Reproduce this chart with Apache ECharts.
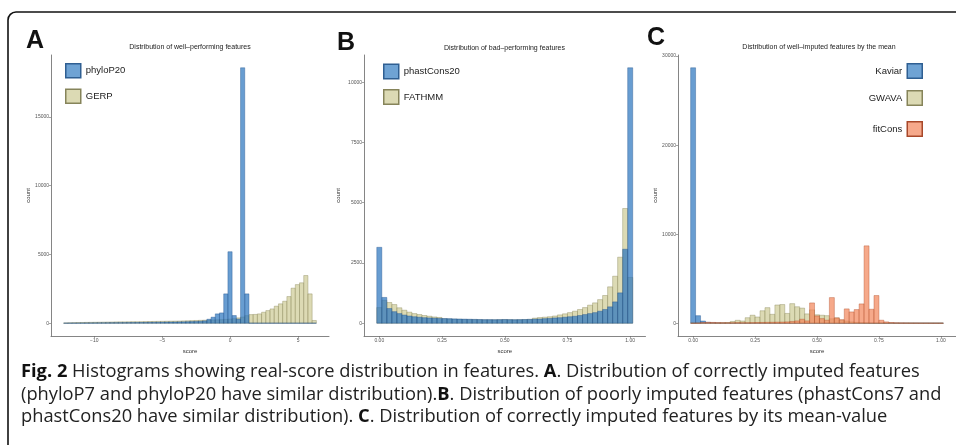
<!DOCTYPE html>
<html><head><meta charset="utf-8">
<script src="https://cdn.jsdelivr.net/npm/echarts@6/dist/echarts.min.js"></script>
<style>html,body{margin:0;padding:0;background:#fff}#c{width:956px;height:445px}</style>
</head><body><div id="c"></div>
<script>
// ---------- DATA ----------
// Panel A: 60 bins, width 0.31, first bin starts at -12.26
const binStartA = -12.26, binWidthA = 0.31;
const phyloP20 = [5,10,12,15,18,20,22,25,28,30,32,35,38,40,42,45,48,50,52,55,
  60,65,70,75,80,85,90,95,100,110,120,130,145,170,290,440,680,750,2135,5200,
  560,300,18580,2135,8,8,7,7,6,6,6,5,5,5,5,5,5,5,5,5];
const gerp = [20,30,40,50,55,60,65,70,75,80,85,90,95,100,100,105,110,110,115,120,
  125,130,135,140,145,150,155,160,170,180,190,200,210,220,230,240,250,260,280,300,
  330,390,450,550,630,640,680,800,920,1040,1240,1410,1600,1940,2550,2810,2940,3470,2135,200];
const ticksA = [-10,-5,0,5];
const yTicksA = [0,5000,10000,15000];

// Panel B: 51 bins, width 0.02, first bin starts at -0.01
const binStartB = -0.01, binWidthB = 0.02;
const phastCons20 = [3150,1070,610,480,400,340,300,270,250,230,220,210,200,195,190,180,175,170,165,160,
  155,150,150,148,150,155,150,148,150,155,160,170,175,190,200,220,230,250,270,290,
  320,360,400,440,500,570,680,885,1260,3070,10600];
const fathmm = [650,950,860,775,640,540,460,400,360,320,290,260,240,185,175,165,160,155,150,150,
  145,140,140,140,145,150,145,140,145,150,160,210,235,250,270,300,345,390,440,500,
  570,650,750,845,980,1150,1510,1950,2740,4760,1900];
const ticksB = [0,0.25,0.5,0.75,1];
const yTicksB = [0,2500,5000,7500,10000];

// Panel C: 51 bins, width 0.02, first bin starts at -0.01
const binStartC = -0.01, binWidthC = 0.02;
const kaviar = [28690,850,250,100,60,40,30,25,22,20,20,20,18,18,18,16,16,15,15,15,
  15,14,14,14,13,13,13,12,12,12,12,11,11,11,10,10,10,10,10,10,
  10,10,10,10,10,10,10,10,10,10,10];
const gwava = [0,0,0,0,5,20,40,80,200,330,250,620,900,700,1400,1750,1000,2050,2100,1100,
  2200,1850,1700,1050,1500,950,900,850,500,600,350,250,150,100,60,40,20,10,8,5,
  5,5,4,4,3,3,2,2,2,2,2];
const fitCons = [0,20,80,100,90,70,60,50,60,70,60,60,70,80,90,100,110,120,130,150,
  200,260,450,260,2280,820,520,340,2880,600,400,1610,1270,1535,2170,8690,1570,3110,340,150,
  80,50,40,35,30,30,25,25,20,20,15];
const ticksC = [0,0.25,0.5,0.75,1];
const yTicksC = [0,10000,20000,30000];

// ---------- CHART ----------
const BLUE = {fill:'rgba(40,116,190,0.7)', stroke:'rgba(30,80,140,0.85)', legend:'#6fa3d4', lborder:'#2f5f92'};
const OLIVE = {fill:'rgba(205,202,148,0.7)', stroke:'rgba(125,122,75,0.8)', legend:'#dcdab4', lborder:'#86845a'};
const ORANGE = {fill:'rgba(242,132,89,0.7)', stroke:'rgba(175,75,40,0.85)', legend:'#f6a98b', lborder:'#a8482a'};

function bins(start, width, counts){
  return counts.map((c,i)=>[start+i*width, start+(i+1)*width, c]);
}
function histSeries(name, data, col, idx){
  return {
    type:'custom', name:name, xAxisIndex:idx, yAxisIndex:idx,
    data:data, encode:{x:[0,1], y:2},
    itemStyle:{color:col.legend, borderColor:col.lborder, borderWidth:1.5},
    renderItem:function(params, api){
      const a = api.coord([api.value(0), api.value(2)]);
      const b = api.coord([api.value(1), 0]);
      return {type:'rect', shape:{x:a[0], y:a[1], width:b[0]-a[0], height:b[1]-a[1]},
        style:{fill:col.fill, stroke:col.stroke, lineWidth:0.45}};
    }
  };
}
const FONT = 'Liberation Sans, Arial, sans-serif';
function xAx(idx, min, max, ticks, fmt){
  return {type:'value', gridIndex:idx, min:min, max:max,
    name:'score', nameLocation:'middle', nameGap:10.5,
    nameTextStyle:{fontSize:6, color:'#333', fontFamily:FONT},
    splitLine:{show:false},
    axisLine:{show:true, onZero:false, lineStyle:{color:'#666', width:0.8}},
    axisTick:{show:true, length:2, customValues:ticks, lineStyle:{color:'#666', width:0.6}},
    axisLabel:{customValues:ticks, fontSize:5, color:'#555', margin:2, fontFamily:FONT, formatter:fmt}};
}
function yAx(idx, min, max, ticks, gap){
  return {type:'value', gridIndex:idx, min:min, max:max,
    name:'count', nameLocation:'middle', nameGap:gap, nameRotate:90,
    nameTextStyle:{fontSize:6, color:'#333', fontFamily:FONT},
    splitLine:{show:false},
    axisLine:{show:true, onZero:false, lineStyle:{color:'#666', width:0.8}},
    axisTick:{show:true, length:2, customValues:ticks, lineStyle:{color:'#666', width:0.6}},
    axisLabel:{customValues:ticks, fontSize:5, color:'#555', margin:2, fontFamily:FONT, formatter:v=>String(Math.round(v))}};
}
function legendItem(name, col){
  return {name:name, icon:'rect', itemStyle:{color:col.legend, borderColor:col.lborder, borderWidth:1.5}};
}
const legendText = {fontSize:9.5, color:'#222', fontFamily:FONT};
function panelText(x, y, text){
  return {type:'text', x:x, y:y, style:{text:text, fontSize:7, fontFamily:FONT, fill:'#222', align:'center', verticalAlign:'middle'}};
}
function letter(x, y, t){
  return {type:'text', x:x, y:y, style:{text:t, fontSize:25, fontWeight:900, fontFamily:FONT, fill:'#111', align:'left', verticalAlign:'middle'}};
}
const capFont = 'Open Sans, Noto Sans, sans-serif';
const capSize = 18.3;
const capRich = {b:{fontWeight:'bold', fontSize:capSize, fontFamily:capFont, fill:'#111'}};
function capLine(y, text){
  return {type:'text', x:21, y:y, style:{text:text, rich:capRich, fontSize:capSize, fontFamily:capFont, fill:'#222', align:'left', verticalAlign:'middle'}};
}
const frameStyle = {stroke:'#111', lineWidth:1.6, fill:null};

const chart = echarts.init(document.getElementById('c'), null, {renderer:'canvas'});
chart.setOption({
  animation:false,
  backgroundColor:'#fff',
  grid:[
    {left:51, top:55, width:278, height:281},
    {left:364, top:55, width:281.5, height:281},
    {left:678, top:55, width:285, height:281}
  ],
  xAxis:[
    xAx(0, -13.19, 7.27, ticksA, v=>String(v).replace('-','\u2212')),
    xAx(1, -0.061, 1.061, ticksB, v=>v.toFixed(2)),
    xAx(2, -0.061, 1.061, ticksC, v=>v.toFixed(2))
  ],
  yAxis:[
    yAx(0, -929, 19509, yTicksA, 18.5),
    yAx(1, -530, 11130, yTicksB, 22.5),
    yAx(2, -1434, 30124, yTicksC, 17)
  ],
  legend:[
    {left:65, top:63, orient:'vertical', padding:0, itemWidth:15, itemHeight:14, itemGap:10, selectedMode:false,
     textStyle:legendText, data:[legendItem('phyloP20', BLUE), legendItem('GERP', OLIVE)]},
    {left:383, top:63.5, orient:'vertical', padding:0, itemWidth:15, itemHeight:14.5, itemGap:9.5, selectedMode:false,
     textStyle:legendText, data:[legendItem('phastCons20', BLUE), legendItem('FATHMM', OLIVE)]},
    {right:33, top:63, align:'right', padding:0, itemWidth:15, itemHeight:14.5, selectedMode:false,
     textStyle:legendText, data:[legendItem('Kaviar', BLUE)]},
    {right:33, top:90, align:'right', padding:0, itemWidth:15, itemHeight:14.5, selectedMode:false,
     textStyle:legendText, data:[legendItem('GWAVA', OLIVE)]},
    {right:33, top:121, align:'right', padding:0, itemWidth:15, itemHeight:14.5, selectedMode:false,
     textStyle:legendText, data:[legendItem('fitCons', ORANGE)]}
  ],
  series:[
    histSeries('GERP', bins(binStartA, binWidthA, gerp), OLIVE, 0),
    histSeries('phyloP20', bins(binStartA, binWidthA, phyloP20), BLUE, 0),
    histSeries('FATHMM', bins(binStartB, binWidthB, fathmm), OLIVE, 1),
    histSeries('phastCons20', bins(binStartB, binWidthB, phastCons20), BLUE, 1),
    histSeries('Kaviar', bins(binStartC, binWidthC, kaviar), BLUE, 2),
    histSeries('GWAVA', bins(binStartC, binWidthC, gwava), OLIVE, 2),
    histSeries('fitCons', bins(binStartC, binWidthC, fitCons), ORANGE, 2)
  ],
  graphic:[
    {type:'line', shape:{x1:8, y1:446, x2:8, y2:20}, style:frameStyle},
    {type:'arc', shape:{cx:16, cy:20, r:8, startAngle:Math.PI, endAngle:Math.PI*1.5, clockwise:true}, style:frameStyle},
    {type:'line', shape:{x1:16, y1:12, x2:960, y2:12}, style:frameStyle},
    letter(26, 41, 'A'), letter(337, 43.5, 'B'), letter(647, 38.5, 'C'),
    panelText(190, 47.5, 'Distribution of well\u2013performing features'),
    panelText(504.5, 48.5, 'Distribution of bad\u2013performing features'),
    panelText(819, 47.5, 'Distribution of well\u2013imputed features by the mean'),
    capLine(372, '{b|Fig. 2} Histograms showing real-score distribution in features. {b|A}. Distribution of correctly imputed features'),
    capLine(395, '(phyloP7 and phyloP20 have similar distribution).{b|B}. Distribution of poorly imputed features (phastCons7 and'),
    capLine(417, 'phastCons20 have similar distribution). {b|C}. Distribution of correctly imputed features by its mean-value')
  ]
});
</script></body></html>
